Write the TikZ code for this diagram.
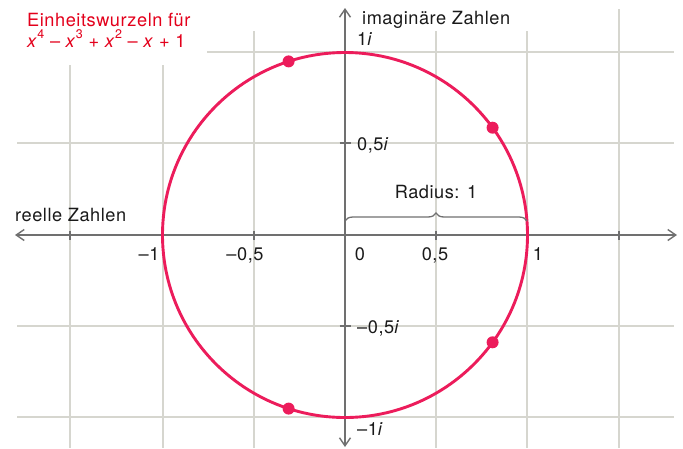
\documentclass[tikz,border=0pt]{standalone}
\usepackage{fontspec}
\setmainfont{TeX Gyre Heros}[LetterSpace=3.0]
\usetikzlibrary{arrows.meta,decorations.pathreplacing}
\definecolor{gridc}{HTML}{D6D6CF}
\definecolor{axisc}{HTML}{707070}
\definecolor{circc}{HTML}{EC1C5B}
\definecolor{titlec}{HTML}{E3001B}
\definecolor{textc}{HTML}{1A1A1A}
\newcommand{\sx}[1]{\textit{x}\raisebox{0.45em}{\fontsize{12.5}{12.5}\selectfont #1}}
\begin{document}
\begin{tikzpicture}[x=1pt,y=-1pt,
  gridline/.style={draw=gridc,line width=1.1pt},
  axisline/.style={draw=axisc,line width=1.4pt,-{Straight Barb[length=8pt,width=11pt]}},
  tickmark/.style={draw=axisc,line width=1.4pt},
  lbl/.style={text=textc,font=\fontsize{18.2}{21}\selectfont,inner sep=0pt},
  rootdot/.style={circle,fill=circc,inner sep=0pt,minimum size=12pt}]
\useasboundingbox (0,0) rectangle (683,448);
% grid
\foreach \x/\t in {70/65,163/65,254/31,436/31,527/31,619/9}
  \draw[gridline] (\x,\t) -- (\x,448);
\foreach \y in {143,326,417}
  \draw[gridline] (17,\y) -- (674,\y);
\draw[gridline] (207,52) -- (674,52);
% axes
\coordinate (O) at (345,235);
\coordinate (xl) at (15,235);
\coordinate (xr) at (677,235);
\coordinate (yt) at (345,8);
\coordinate (yb) at (345,447);
\draw[axisline] (O) -- (xr);
\draw[axisline] (O) -- (xl);
\draw[axisline] (O) -- (yt);
\draw[axisline] (O) -- (yb);
\foreach \x in {70,163,254,436,527,619}
  \draw[tickmark] (\x,230.5) -- (\x,239.5);
\foreach \y in {52,143,326,417}
  \draw[tickmark] (339.5,\y) -- (350.5,\y);
% circle
\draw[circc,line width=2.9pt] (O) circle[radius=182.5];
\node[rootdot] (r1) at (492.6,127.7) {};
\node[rootdot] (r2) at (288.6,61.4) {};
\node[rootdot] (r3) at (288.6,408.6) {};
\node[rootdot] (r4) at (492.6,342.3) {};
% brace
\coordinate (b1) at (345,221);
\coordinate (b2) at (527,221);
\draw[axisc,line width=1.3pt,decoration={brace,amplitude=8pt,raise=0pt},decorate] (b1) -- (b2);
\node[lbl,anchor=base] (rad) at (436,198) {Radius: 1};
% title
\node[lbl,anchor=base west,text=titlec] (t1) at (27,26) {Einheitswurzeln für};
\node[lbl,anchor=base west,text=titlec] (t2) at (27,47) {\sx{4} – \sx{3} + \sx{2} – \textit{x} + 1};
% axis labels
\node[lbl,anchor=base west] (im) at (362,24) {imaginäre Zahlen};
\node[lbl,anchor=base west] (re) at (15,221) {reelle Zahlen};
% tick labels
\node[lbl,anchor=base west] (l1i) at (357,45) {1\textit{i}};
\node[lbl,anchor=base west] (l05i) at (357,150) {0,5\textit{i}};
\node[lbl,anchor=base west] (lm05i) at (357,333) {–0,5\textit{i}};
\node[lbl,anchor=base west] (lm1i) at (357,435) {–1\textit{i}};
\node[lbl,anchor=base] (lm1) at (149,260) {–1};
\node[lbl,anchor=base] (lm05) at (245,260) {–0,5};
\node[lbl,anchor=base] (l0) at (360,260) {0};
\node[lbl,anchor=base] (l05) at (435,260) {0,5};
\node[lbl,anchor=base] (lp1) at (538,260) {1};
\end{tikzpicture}
\end{document}
